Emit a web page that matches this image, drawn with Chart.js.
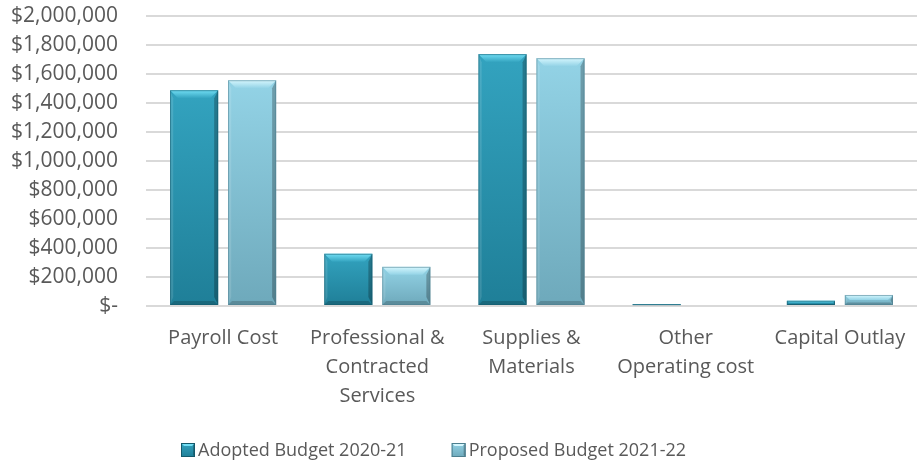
<!DOCTYPE html>
<html>
<head>
<meta charset="utf-8">
<script src="https://cdn.jsdelivr.net/npm/chart.js@4/dist/chart.umd.min.js"></script>
<style>
  html, body { margin: 0; padding: 0; background: #ffffff; }
  #wrap { width: 917px; height: 466px; position: relative; }
</style>
</head>
<body>
<div id="wrap"><canvas id="budget"></canvas></div>
<script>
// Expenditure categories (multi-line labels as drawn under the axis)
const categories = [
  "Payroll Cost",
  ["Professional &", "Contracted", "Services"],
  ["Supplies &", "Materials"],
  ["Other", "Operating cost"],
  "Capital Outlay"
];
const seriesNames = ["Adopted Budget 2020-21", "Proposed Budget 2021-22"];
const adopted2021 = [1488000, 360000, 1737000, 12000, 36000];
const proposed2122 = [1557000, 270000, 1709000, 0, 76000];
const yMax = 2000000;
const yStep = 200000;

const FONT = "'Open Sans', Lato, sans-serif";
const TEXT = "#595959";

// Colour sets for the bevelled bars
const palettes = [
  { top: "#33a3bf", bottom: "#1f7f98", light: "#72def4", edge: "#145a6c" },
  { top: "#93d3e6", bottom: "#6ea9bb", light: "#d6f7fe", edge: "#4c7f8f" }
];

// Paints each bar with a vertical gradient and bevelled edges
const bevelBars = {
  id: "bevelBars",
  afterDatasetDraw(chart, args) {
    const ctx = chart.ctx;
    const pal = palettes[args.index];
    args.meta.data.forEach(bar => {
      const p = bar.getProps(["x", "y", "base", "width"], true);
      const l = p.x - p.width / 2, r = p.x + p.width / 2;
      const t = Math.min(p.y, p.base), b = Math.max(p.y, p.base);
      const h = b - t;
      if (h < 0.5) return;
      const bv = Math.min(8, h / 2);
      ctx.save();
      const g = ctx.createLinearGradient(0, t, 0, b);
      g.addColorStop(0, pal.top);
      g.addColorStop(1, pal.bottom);
      ctx.fillStyle = g;
      ctx.fillRect(l, t, r - l, h);
      // top bevel
      const tg = ctx.createLinearGradient(0, t, 0, t + bv);
      tg.addColorStop(0, pal.light);
      tg.addColorStop(1, pal.top);
      ctx.fillStyle = tg;
      ctx.beginPath();
      ctx.moveTo(l, t); ctx.lineTo(r, t); ctx.lineTo(r - bv, t + bv); ctx.lineTo(l + bv, t + bv);
      ctx.closePath(); ctx.fill();
      // left bevel
      ctx.fillStyle = "rgba(255,255,255,0.12)";
      ctx.beginPath();
      ctx.moveTo(l, t); ctx.lineTo(l + bv * 0.4, t + bv); ctx.lineTo(l + bv * 0.4, b - bv); ctx.lineTo(l, b);
      ctx.closePath(); ctx.fill();
      // right bevel
      ctx.fillStyle = "rgba(0,0,0,0.25)";
      ctx.beginPath();
      ctx.moveTo(r, t); ctx.lineTo(r - bv * 0.5, t + bv); ctx.lineTo(r - bv * 0.5, b - bv); ctx.lineTo(r, b);
      ctx.closePath(); ctx.fill();
      // bottom bevel
      ctx.fillStyle = "rgba(0,0,0,0.18)";
      ctx.beginPath();
      ctx.moveTo(l, b); ctx.lineTo(r, b); ctx.lineTo(r - bv * 0.5, b - bv * 0.5); ctx.lineTo(l + bv * 0.5, b - bv * 0.5);
      ctx.closePath(); ctx.fill();
      // outline
      ctx.strokeStyle = pal.edge;
      ctx.globalAlpha = 0.55;
      ctx.lineWidth = 1;
      ctx.strokeRect(l + 0.5, t + 0.5, r - l - 1, h - 1);
      ctx.restore();
    });
  }
};

// Legend row under the axis labels: bevelled swatch + series name
const legendRow = {
  id: "legendRow",
  afterDraw(chart) {
    const ctx = chart.ctx;
    const y = 450, box = 14, boxGap = 3, itemGap = 45, startX = 181;
    ctx.save();
    ctx.font = "18px " + FONT;
    ctx.textBaseline = "middle";
    let x = startX;
    seriesNames.forEach((name, i) => {
      const pal = palettes[i];
      const top = y - box / 2;
      const g = ctx.createLinearGradient(0, top, 0, top + box);
      g.addColorStop(0, pal.top); g.addColorStop(1, pal.bottom);
      ctx.fillStyle = g; ctx.fillRect(x, top, box, box);
      ctx.fillStyle = pal.light;
      ctx.beginPath(); ctx.moveTo(x, top); ctx.lineTo(x + box, top); ctx.lineTo(x + box - 3, top + 3); ctx.lineTo(x + 3, top + 3); ctx.closePath(); ctx.fill();
      ctx.fillStyle = "rgba(0,0,0,0.25)";
      ctx.beginPath(); ctx.moveTo(x + box, top); ctx.lineTo(x + box, top + box); ctx.lineTo(x + box - 2, top + box - 2); ctx.lineTo(x + box - 2, top + 2); ctx.closePath(); ctx.fill();
      ctx.strokeStyle = pal.edge; ctx.lineWidth = 1; ctx.strokeRect(x + 0.5, top + 0.5, box - 1, box - 1);
      ctx.fillStyle = TEXT;
      ctx.fillText(name, x + box + boxGap, y + 1);
      x += box + boxGap + ctx.measureText(name).width + itemGap;
    });
    ctx.restore();
  }
};

new Chart(document.getElementById("budget"), {
  type: "bar",
  data: {
    labels: categories,
    datasets: [
      { label: seriesNames[0], data: adopted2021, backgroundColor: "rgba(0,0,0,0)", borderWidth: 0 },
      { label: seriesNames[1], data: proposed2122, backgroundColor: "rgba(0,0,0,0)", borderWidth: 0 }
    ]
  },
  options: {
    responsive: true,
    maintainAspectRatio: false,
    animation: false,
    categoryPercentage: 0.752,
    barPercentage: 0.83,
    layout: { padding: { top: 16, right: 0, left: 0, bottom: 30 } },
    plugins: {
      tooltip: { enabled: false },
      legend: { display: false }
    },
    scales: {
      x: {
        afterFit(scale) {
          scale.height = 130;
          scale.paddingLeft = 0;
          scale.paddingRight = 0;
        },
        grid: { display: false, drawTicks: false },
        border: { display: false },
        ticks: {
          font: { family: FONT, size: 20, lineHeight: 1.45 },
          color: TEXT,
          padding: 18,
          maxRotation: 0,
          autoSkip: false
        }
      },
      y: {
        min: 0,
        max: yMax,
        afterFit(scale) {
          scale.width = 146;
          scale.paddingTop = 0;
          scale.paddingBottom = 0;
        },
        grid: { color: "#d9d9d9", lineWidth: 2, drawTicks: false },
        border: { display: false },
        ticks: {
          stepSize: yStep,
          font: { family: FONT, size: 21 },
          color: TEXT,
          padding: 28,
          callback(v) { return v === 0 ? "$-" : "$" + v.toLocaleString("en-US"); }
        }
      }
    }
  },
  plugins: [bevelBars, legendRow]
});
</script>
</body>
</html>
